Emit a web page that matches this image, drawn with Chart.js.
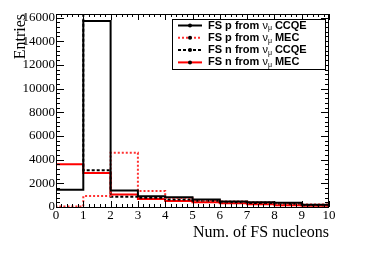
<!DOCTYPE html>
<html>
<head>
<meta charset="utf-8">
<script src="https://cdn.jsdelivr.net/npm/chart.js@4.4.0/dist/chart.umd.min.js"></script>
<style>
html, body { margin: 0; padding: 0; background: #fff; }
</style>
</head>
<body>
<canvas id="hist" width="374" height="253"></canvas>
<script>
// bin edges of the histogram (Num. of FS nucleons)
var binEdges = [0, 1, 2, 3, 4, 5, 6, 7, 8, 9, 10];
// entries per bin
var pCCQE = [1450, 15700, 1390, 910, 825, 630, 460, 400, 350, 185];
var pMEC  = [50, 920, 4580, 1350, 750, 550, 470, 400, 300, 210];
var nCCQE = [16300, 3100, 870, 780, 640, 530, 400, 330, 280, 150];
var nMEC  = [3620, 2880, 1060, 670, 500, 410, 320, 240, 150, 100];
var yTicks = [0, 2000, 4000, 6000, 8000, 10000, 12000, 14000, 16000];
var xTicks = [0, 1, 2, 3, 4, 5, 6, 7, 8, 9, 10];
var legendNames = ["FS p from", "FS p from", "FS n from", "FS n from"];
var legendTails = ["CCQE", "MEC", "CCQE", "MEC"];

var yMax = 16300;

// turn bin contents into outline points (horizontal first, then vertical)
function toSteps(vals) {
    var pts = [{x: binEdges[0], y: 0}];
    for (var i = 0; i < vals.length; i++) {
        pts.push({x: binEdges[i], y: vals[i]});
    }
    pts.push({x: binEdges[vals.length], y: vals[vals.length - 1]});
    pts.push({x: binEdges[vals.length], y: 0});
    return pts;
}

var styles = [
    {color: "#000000", dash: []},
    {color: "#ff3030", dash: [2, 2]},
    {color: "#000000", dash: [3, 2]},
    {color: "#ff0000", dash: []}
];
var allSeries = [pCCQE, pMEC, nCCQE, nMEC];

var datasets = [];
for (var s = 0; s < allSeries.length; s++) {
    datasets.push({
        label: legendNames[s] + " " + legendTails[s],
        data: toSteps(allSeries[s]),
        borderColor: styles[s].color,
        borderDash: styles[s].dash,
        borderWidth: 2,
        pointRadius: 0,
        fill: false,
        stepped: 'before'
    });
}

var framePlugin = {
    id: 'rootFrame',
    afterDraw: function(chart) {
        var ctx = chart.ctx;
        var a = chart.chartArea;
        var xs = chart.scales.x, ys = chart.scales.y;
        ctx.save();
        ctx.strokeStyle = "#000";
        ctx.lineWidth = 1;
        ctx.strokeRect(a.left + 0.5, a.top + 0.5, a.right - a.left - 1, a.bottom - a.top);
        ctx.beginPath();
        // y ticks, left and right
        for (var v = 0; v <= yMax; v += 400) {
            var py = Math.round(ys.getPixelForValue(v)) + 0.5;
            var len = (v % 2000 === 0) ? 8 : 4;
            ctx.moveTo(a.left, py); ctx.lineTo(a.left + len, py);
            ctx.moveTo(a.right, py); ctx.lineTo(a.right - len, py);
        }
        // x ticks, bottom and top
        for (var k = 0; k <= 50; k++) {
            var px = Math.round(xs.getPixelForValue(k / 5)) + 0.5;
            var l2 = (k % 5 === 0) ? 6 : 3;
            ctx.moveTo(px, a.bottom); ctx.lineTo(px, a.bottom - l2);
            ctx.moveTo(px, a.top); ctx.lineTo(px, a.top + l2);
        }
        ctx.stroke();

        // legend box
        var bx = 172, by = 19, bw = 153, bh = 50;
        ctx.fillStyle = "#fff";
        ctx.fillRect(bx, by, bw, bh);
        ctx.strokeRect(bx + 0.5, by + 0.5, bw, bh);
        for (var i = 0; i < legendNames.length; i++) {
            var cy = by + 6.5 + i * 12.3;
            ctx.save();
            ctx.strokeStyle = styles[i].color;
            ctx.setLineDash(styles[i].dash);
            ctx.lineWidth = 2;
            ctx.beginPath();
            ctx.moveTo(178, cy); ctx.lineTo(202, cy);
            ctx.stroke();
            ctx.restore();
            ctx.fillStyle = "#000";
            ctx.beginPath();
            ctx.arc(190, cy, 2, 0, Math.PI * 2);
            ctx.fill();
            ctx.textBaseline = "middle";
            ctx.font = "bold 11px 'Liberation Sans', Arial, sans-serif";
            var tx = 208;
            var t1 = legendNames[i] + " ";
            ctx.fillText(t1, tx, cy);
            tx += ctx.measureText(t1).width;
            ctx.font = "11px 'Liberation Sans', Arial, sans-serif";
            ctx.fillText("\u03bd", tx, cy);
            tx += ctx.measureText("\u03bd").width;
            ctx.font = "7px 'Liberation Sans', Arial, sans-serif";
            ctx.fillText("\u03bc", tx, cy + 3);
            tx += ctx.measureText("\u03bc").width + 3;
            ctx.font = "bold 11px 'Liberation Sans', Arial, sans-serif";
            ctx.fillText(legendTails[i], tx, cy);
        }
        ctx.restore();
    }
};

var ctx = document.getElementById("hist").getContext('2d');
var serif = "'Liberation Serif', 'Times New Roman', serif";
var histChart = new Chart(ctx, {
    type: 'line',
    data: {datasets: datasets},
    options: {
        responsive: false,
        animation: false,
        layout: {padding: {top: 14, right: 45, left: 0, bottom: 0}},
        plugins: {legend: {display: false}, tooltip: {enabled: false}},
        scales: {
            x: {
                type: 'linear',
                min: 0,
                max: 10,
                afterBuildTicks: function(scale) {
                    scale.ticks = xTicks.map(function(v) { return {value: v}; });
                },
                afterFit: function(scale) { scale.height = 46; },
                grid: {display: false, drawTicks: false},
                border: {display: false},
                ticks: {color: "#000", padding: 1, font: {family: serif, size: 13}, maxRotation: 0,
                        callback: function(v) { return String(v); }},
                title: {display: true, text: "Num. of FS nucleons", align: 'end', color: "#000",
                        font: {family: serif, size: 16}, padding: {top: 0, bottom: 11}}
            },
            y: {
                min: 0,
                max: yMax,
                afterBuildTicks: function(scale) {
                    scale.ticks = yTicks.map(function(v) { return {value: v}; });
                },
                afterFit: function(scale) { scale.width = 56; },
                grid: {display: false, drawTicks: false},
                border: {display: false},
                ticks: {color: "#000", padding: 1, font: {family: serif, size: 13},
                        callback: function(v) { return String(v); }},
                title: {display: true, text: "Entries", align: 'end', color: "#000",
                        font: {family: serif, size: 16}, padding: {top: 11, bottom: 0}}
            }
        }
    },
    plugins: [framePlugin]
});
</script>
</body>
</html>
